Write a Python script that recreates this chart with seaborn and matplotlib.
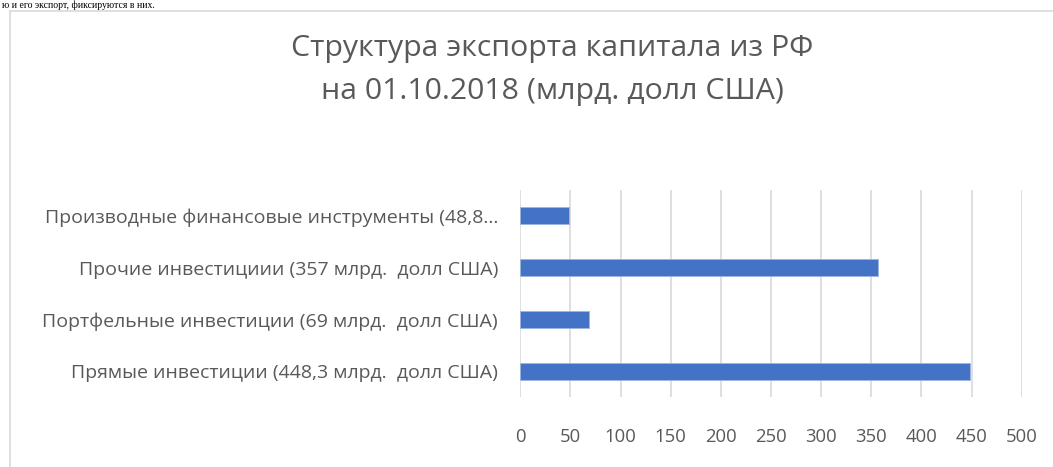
import matplotlib
matplotlib.use("Agg")
import matplotlib.pyplot as plt
import seaborn as sns
import pandas as pd
from matplotlib.lines import Line2D

categories = [
    "Производные финансовые инструменты (48,8...",
    "Прочие инвестициии (357 млрд.  долл США)",
    "Портфельные инвестиции (69 млрд.  долл США)",
    "Прямые инвестиции (448,3 млрд.  долл США)",
]
values = [48.8, 357, 69, 448.3]
xticks = [0, 50, 100, 150, 200, 250, 300, 350, 400, 450, 500]
title = "Структура экспорта капитала из РФ\nна 01.10.2018 (млрд. долл США)"

df = pd.DataFrame({"cat": categories, "val": values})

sns.set_theme(style="white")
plt.rcParams['font.family'] = ['Open Sans', 'DejaVu Sans']

W, H = 1053, 467
fig = plt.figure(figsize=(W / 100, H / 100), dpi=100)
ax = fig.add_axes([520.3 / W, 1 - 397 / H, (1021.7 - 520.3) / W, (397 - 190) / H])

sns.barplot(data=df, y="cat", x="val", orient="h", color="#4472C4",
            width=0.33, saturation=1, ax=ax, edgecolor="#9DB5E0", linewidth=0.6)

ax.set_xlim(0, 500)
ax.set_xticks(xticks)
ax.set_xticklabels([str(t) for t in xticks])
ax.set_xlabel("")
ax.set_ylabel("")
ax.grid(axis="x", color="#D9D9D9", linewidth=1.2)
ax.set_axisbelow(True)
for s in ax.spines.values():
    s.set_visible(False)
ax.tick_params(axis="x", length=0, pad=22, labelsize=13.3, labelcolor="#595959")
ax.tick_params(axis="y", length=0, pad=16, labelsize=14.0, labelcolor="#595959")

fig.text(552 / W, 1 - 70 / H, title, ha="center", va="center", fontsize=21.8,
         color="#595959", linespacing=1.62)

# chart border
fig.add_artist(Line2D([9.5 / W, 9.5 / W], [0, 1 - 11 / H], transform=fig.transFigure,
                      color="#D9D9D9", lw=1.2))
fig.add_artist(Line2D([9.5 / W, 1], [1 - 11 / H, 1 - 11 / H], transform=fig.transFigure,
                      color="#D9D9D9", lw=1.2))

# document text line above the chart
fig.text(2 / W, 1 - 1 / H, "ю и его экспорт, фиксируются в них.", ha="left",
         va="top", fontsize=7, color="black",
         family=["Liberation Serif", "DejaVu Serif"])

fig.savefig("out.png", dpi=100, facecolor="white")
